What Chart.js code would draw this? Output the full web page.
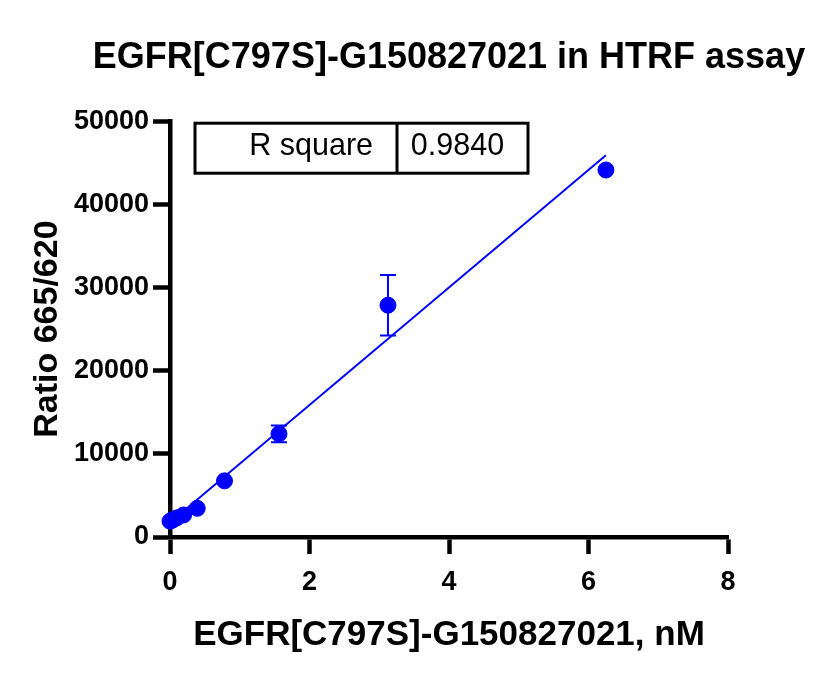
<!DOCTYPE html>
<html><head><meta charset="utf-8">
<script src="https://cdn.jsdelivr.net/npm/chart.js@4.4.1/dist/chart.umd.min.js"></script>
<style>html,body{margin:0;padding:0;background:#fff;}#wrap{width:832px;height:688px;}</style>
</head><body><div id="wrap"><canvas id="c" width="832" height="688"></canvas></div>
<script>
const chartTitle = 'EGFR[C797S]-G150827021 in HTRF assay';
const xTitle = 'EGFR[C797S]-G150827021, nM';
const yTitle = 'Ratio 665/620';
const concentrations = [0, 0.0244, 0.0488, 0.0977, 0.1953, 0.3906, 0.7813, 1.5625, 3.125, 6.25];
const ratioMeans = [1900, 2000, 2100, 2300, 2650, 3450, 6750, 12400, 27870, 44130];
const ratioSD = [0, 0, 0, 0, 0, 0, 0, 1000, 3630, 0];
const xTicks = [0, 2, 4, 6, 8];
const yTicks = [0, 10000, 20000, 30000, 40000, 50000];
const rSquareLabel = 'R square';
const rSquareValue = '0.9840';

const FONT = '"Liberation Sans", Arial, sans-serif';
const BLUE = '#0000ff';

// least squares fit from the data
const n = concentrations.length;
const mx = concentrations.reduce((a, b) => a + b, 0) / n;
const my = ratioMeans.reduce((a, b) => a + b, 0) / n;
let sxy = 0, sxx = 0;
for (let i = 0; i < n; i++) { sxy += (concentrations[i] - mx) * (ratioMeans[i] - my); sxx += (concentrations[i] - mx) ** 2; }
const slope = sxy / sxx, intercept = my - slope * mx;
const xEnd = Math.max(...concentrations);
const fitPoints = [{x: 0, y: intercept}, {x: xEnd, y: intercept + slope * xEnd}];

const points = concentrations.map((x, i) => ({x, y: ratioMeans[i]}));

const errorBars = {
  id: 'errorBars',
  afterDatasetsDraw(chart) {
    const ctx = chart.ctx, xs = chart.scales.x, ys = chart.scales.y;
    ctx.save();
    ctx.strokeStyle = BLUE; ctx.lineWidth = 2;
    concentrations.forEach((x, i) => {
      const e = ratioSD[i]; if (!e) return;
      const px = xs.getPixelForValue(x);
      const top = ys.getPixelForValue(ratioMeans[i] + e), bot = ys.getPixelForValue(ratioMeans[i] - e);
      ctx.beginPath();
      ctx.moveTo(px, top); ctx.lineTo(px, bot);
      ctx.moveTo(px - 8, top); ctx.lineTo(px + 8, top);
      ctx.moveTo(px - 8, bot); ctx.lineTo(px + 8, bot);
      ctx.stroke();
    });
    ctx.restore();
  }
};

const rsqBox = {
  id: 'rsqBox',
  afterDraw(chart) {
    const ctx = chart.ctx, ca = chart.chartArea;
    const left = ca.left + 25, top = ca.top + 2, w = 333, h = 50, div = left + 202;
    ctx.save();
    ctx.strokeStyle = '#000'; ctx.lineWidth = 3;
    ctx.strokeRect(left, top, w, h);
    ctx.beginPath(); ctx.moveTo(div, top); ctx.lineTo(div, top + h); ctx.stroke();
    ctx.fillStyle = '#000';
    ctx.font = '30.5px ' + FONT;
    ctx.textBaseline = 'middle';
    ctx.textAlign = 'right';
    ctx.fillText(rSquareLabel, div - 24, top + h / 2 - 2);
    ctx.textAlign = 'center';
    ctx.fillText(rSquareValue, (div + left + w) / 2 - 5, top + h / 2 - 2);
    ctx.restore();
  }
};

new Chart(document.getElementById('c'), {
  type: 'scatter',
  data: {
    datasets: [
      {data: points, backgroundColor: BLUE, borderColor: BLUE, pointRadius: 8, pointHoverRadius: 8, clip: false},
      {data: fitPoints, showLine: true, borderColor: BLUE, borderWidth: 2, pointRadius: 0, fill: false}
    ]
  },
  options: {
    responsive: false, animation: false, devicePixelRatio: 1,
    layout: {padding: {left: 66, right: 0, top: 0, bottom: 0}},
    plugins: {
      legend: {display: false}, tooltip: {enabled: false},
      title: {display: true, text: chartTitle, color: '#000', font: {family: FONT, size: 36, weight: 'bold'}, padding: {top: 36, bottom: 42}}
    },
    scales: {
      x: {
        type: 'linear', min: xTicks[0], max: xTicks[xTicks.length - 1],
        afterFit(s) { s.height = 151; },
        afterBuildTicks(s) { s.ticks = xTicks.map(v => ({value: v})); },
        border: {color: '#000', width: 4.5},
        grid: {display: true, drawOnChartArea: false, drawTicks: true, tickLength: 17, tickWidth: 4.5, tickColor: '#000', color: '#000'},
        ticks: {color: '#000', padding: 12, font: {family: FONT, size: 27, weight: 'bold'}, callback: v => String(v)},
        title: {display: true, text: xTitle, color: '#000', font: {family: FONT, size: 35, weight: 'bold'}, padding: {top: 0, bottom: 32}}
      },
      y: {
        type: 'linear', min: yTicks[0], max: yTicks[yTicks.length - 1],
        afterFit(s) { s.width = 104; },
        afterBuildTicks(s) { s.ticks = yTicks.map(v => ({value: v})); },
        border: {color: '#000', width: 4.5},
        grid: {display: true, drawOnChartArea: false, drawTicks: true, tickLength: 17, tickWidth: 4.5, tickColor: '#000', color: '#000'},
        ticks: {color: '#000', padding: 4, font: {family: FONT, size: 27, weight: 'bold'}, callback: v => String(v)},
        title: {display: true, text: yTitle, color: '#000', font: {family: FONT, size: 34, weight: 'bold'}, padding: {top: -39, bottom: 0}}
      },
      spacer: {
        type: 'linear', position: 'right', display: true,
        afterFit(s) { s.width = 104; },
        border: {display: false}, grid: {display: false}, ticks: {display: false}
      }
    }
  },
  plugins: [errorBars, rsqBox]
});
</script></body></html>
